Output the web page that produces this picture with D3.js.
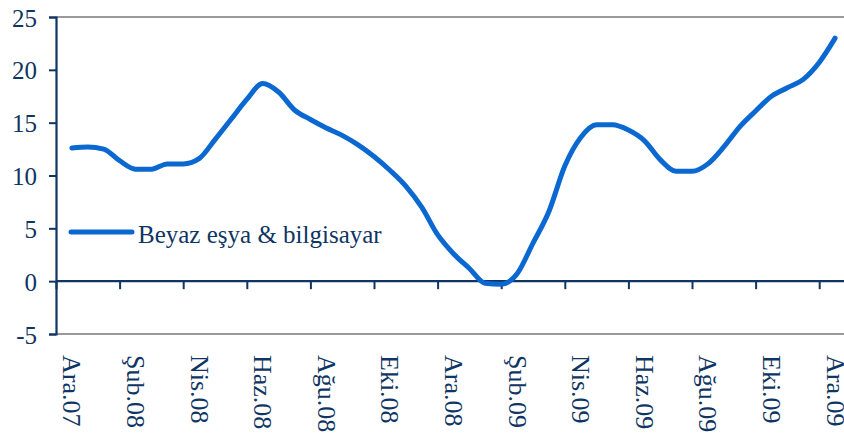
<!DOCTYPE html>
<meta charset="utf-8">
<style>
body { margin: 0; background: #fff; }
text { font-family: "Liberation Serif", "Times New Roman", serif; fill: #0f3563; }
</style>
<body>
<script src="https://cdn.jsdelivr.net/npm/d3@7"></script>
<script>
// month categories (one tick label every 2nd month)
var months = ["Ara.07","Oca.08","Şub.08","Mar.08","Nis.08","May.08","Haz.08","Tem.08","Ağu.08","Eyl.08","Eki.08","Kas.08",
              "Ara.08","Oca.09","Şub.09","Mar.09","Nis.09","May.09","Haz.09","Tem.09","Ağu.09","Eyl.09","Eki.09","Kas.09","Ara.09"];
// series read at half-month steps, Ara.07 .. Ara.09
var beyazEsya = [12.6, 12.7, 12.5, 11.4, 10.6, 10.6, 11.1, 11.1, 11.6, 13.4,
                 15.3, 17.2, 18.7, 17.9, 16.2, 15.3, 14.5, 13.8, 12.9, 11.8,
                 10.5, 9.0, 7.0, 4.4, 2.6, 1.2, -0.2, -0.3, 0.7, 3.6,
                 6.6, 10.9, 13.6, 14.8, 14.8, 14.3, 13.3, 11.5, 10.4, 10.4,
                 11.1, 12.7, 14.6, 16.1, 17.5, 18.3, 19.1, 20.7, 23.0];
var yTicks = [-5, 0, 5, 10, 15, 20, 25];
var seriesName = "Beyaz eşya & bilgisayar";

var width = 844, height = 448;
var plotLeft = 56, plotTop = 17, plotBottom = 334;
var monthW = 31.8;
var navy = "#0f3563", blue = "#0a68d0";

var svg = d3.select("body").append("svg")
    .attr("width", width)
    .attr("height", height);

var x = d3.scaleLinear().domain([0, months.length]).range([plotLeft, plotLeft + months.length * monthW]);
var y = d3.scaleLinear().domain([-5, 25]).range([plotBottom, plotTop]);

// gray frame lines top and bottom
[25, -5].forEach(function(v) {
  svg.append("line")
    .attr("x1", plotLeft).attr("x2", width)
    .attr("y1", y(v)).attr("y2", y(v))
    .attr("stroke", "#9a9a9a").attr("stroke-width", 2);
});

// y axis
var yAxis = svg.append("g")
    .attr("transform", "translate(" + plotLeft + ",0)")
    .call(d3.axisLeft(y).tickValues(yTicks).tickSize(7).tickPadding(12).tickFormat(function(d) { return String(d); }));
yAxis.select(".domain").attr("stroke", navy).attr("stroke-width", 2.2);
yAxis.selectAll(".tick line").attr("stroke", navy).attr("stroke-width", 2);
yAxis.selectAll("text")
    .attr("fill", navy)
    .style("font-size", "25px")
    .style("font-family", "'Liberation Serif', serif")
    .attr("dy", "0.36em");

// x axis at zero
var tickPos = d3.range(0, months.length, 2);
var xAxis = svg.append("g")
    .attr("transform", "translate(0," + y(0) + ")")
    .call(d3.axisBottom(x).tickValues(tickPos).tickSize(8).tickFormat(""));
xAxis.select(".domain").remove();
xAxis.append("line")
    .attr("x1", plotLeft).attr("x2", width)
    .attr("stroke", navy).attr("stroke-width", 2.2);
xAxis.selectAll(".tick line").attr("stroke", navy).attr("stroke-width", 2);

// rotated month labels
svg.append("g").selectAll("text")
    .data(tickPos)
  .enter().append("text")
    .attr("transform", function(d) { return "translate(" + x(d + 0.5) + ",355) rotate(90)"; })
    .attr("dy", "0.33em")
    .style("font-size", "26px")
    .text(function(d) { return months[d]; });

// series line
var line = d3.line()
    .x(function(d, i) { return x(i / 2 + 0.5); })
    .y(function(d) { return y(d); })
    .curve(d3.curveMonotoneX);

svg.append("path")
    .datum(beyazEsya)
    .attr("d", line)
    .attr("fill", "none")
    .attr("stroke", blue)
    .attr("stroke-width", 5)
    .attr("stroke-linecap", "round")
    .attr("stroke-linejoin", "round");

// legend
svg.append("line")
    .attr("x1", 71).attr("x2", 132)
    .attr("y1", 232).attr("y2", 232)
    .attr("stroke", blue).attr("stroke-width", 5)
    .attr("stroke-linecap", "round");
svg.append("text")
    .attr("x", 138).attr("y", 243)
    .style("font-size", "25px")
    .text(seriesName);
</script>
</body>
